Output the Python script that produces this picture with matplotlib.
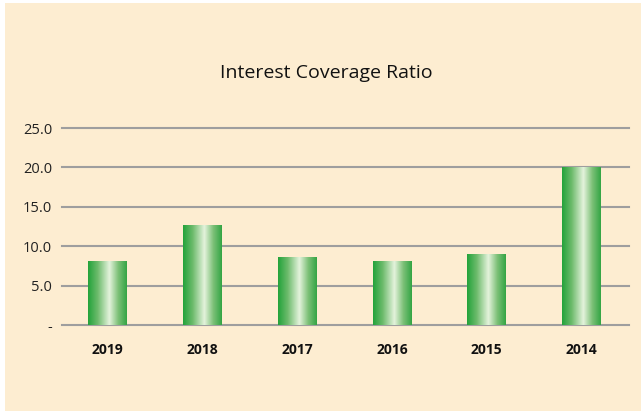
import numpy as np
import matplotlib
matplotlib.use('Agg')
import matplotlib.pyplot as plt
from matplotlib.colors import LinearSegmentedColormap
from matplotlib.patches import Rectangle

years = ['2019', '2018', '2017', '2016', '2015', '2014']
ratio = [8.0, 12.6, 8.6, 8.1, 9.0, 20.0]
ticks = [0, 5, 10, 15, 20, 25]
tick_labels = ['-', '5.0', '10.0', '15.0', '20.0', '25.0']

bg = '#FDEDD1'
fig = plt.figure(figsize=(6.43, 4.13), dpi=100, facecolor='white')
fig.patches.append(Rectangle((5 / 643, 2 / 413), 636 / 643, 408 / 413,
                             transform=fig.transFigure, facecolor=bg,
                             edgecolor='none', zorder=-10))

ax = fig.add_axes([62 / 643, 88 / 413, 567 / 643, 197 / 413])
ax.set_facecolor('none')

# cylinder-like shading across each bar
shade = LinearSegmentedColormap.from_list(
    'shade', [(0.0, '#22A33A'), (0.25, '#6DBB6C'), (0.55, '#E4F3DC'),
              (0.78, '#7CC077'), (1.0, '#33A544')])
grad = np.linspace(0, 1, 256).reshape(1, -1)
width = 0.41
for i, v in enumerate(ratio):
    ax.imshow(grad, cmap=shade, aspect='auto', interpolation='bilinear',
              extent=[i - width / 2, i + width / 2, 0, v], zorder=3)

for t in ticks:
    ax.axhline(t, color='#9E9E9E', lw=1.5, zorder=2, clip_on=False)

ax.set_xlim(-0.48, len(years) - 0.5)
ax.set_ylim(0, 25)
ax.set_yticks(ticks)
ax.set_yticklabels(tick_labels, fontsize=10.5, family='Open Sans', color='#222222')
ax.set_xticks(range(len(years)))
ax.set_xticklabels(years, fontsize=10, family='Open Sans', fontweight='bold',
                   color='#111111')
ax.tick_params(axis='y', length=0, pad=7)
ax.tick_params(axis='x', length=0, pad=13)
for s in ax.spines.values():
    s.set_visible(False)

fig.text(0.508, 1 - 73 / 413, 'Interest Coverage Ratio', ha='center', va='center',
         fontsize=14, family='Open Sans', color='#111111')

fig.savefig('out.png', dpi=100, facecolor='white')
